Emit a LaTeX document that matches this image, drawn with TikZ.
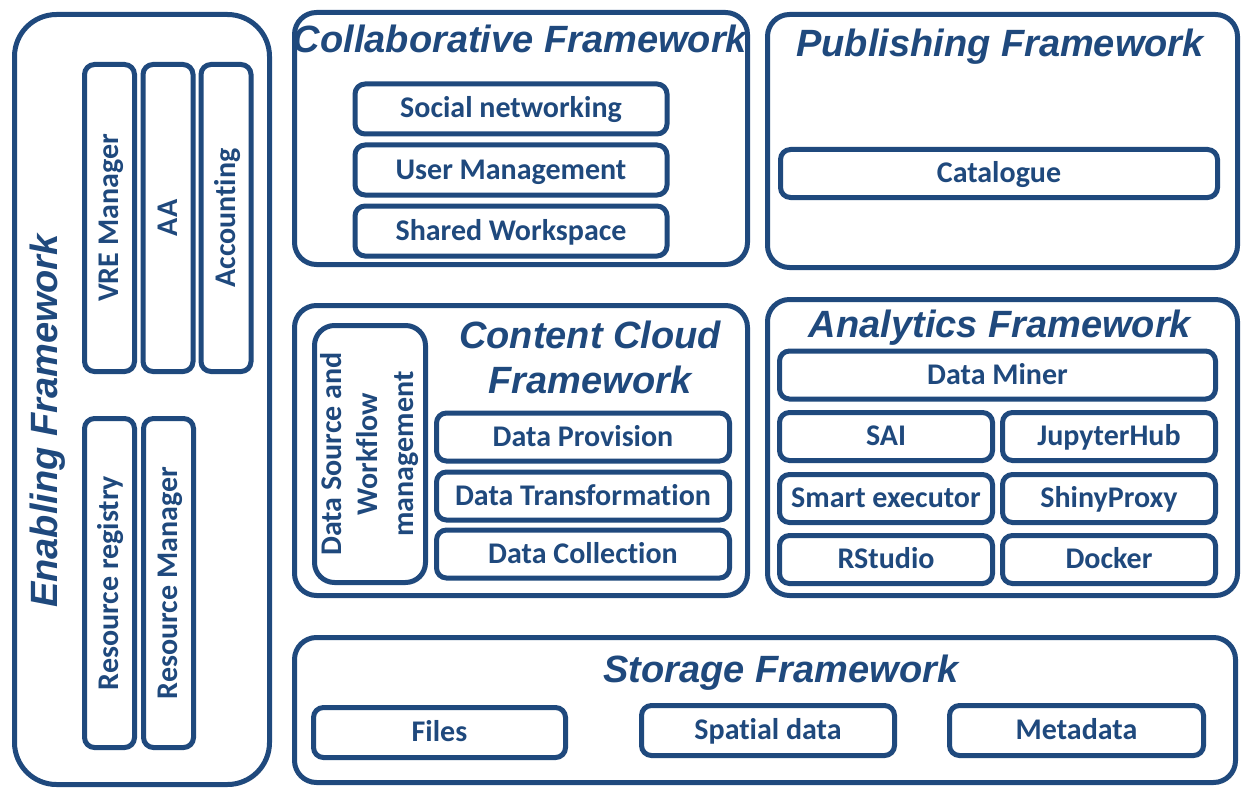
\documentclass[tikz,border=0pt]{standalone}
\usepackage{fontspec}
\setmainfont{Carlito}[Ligatures=NoCommon]
\newfontfamily\headfont{Liberation Sans}
\usetikzlibrary{positioning, shadows}
\definecolor{frameblue}{RGB}{31,73,125}

\begin{document}
\begin{tikzpicture}[
    x=1pt, y=-1pt,
    frame/.style={rectangle, draw=frameblue, line width=5pt, fill=white, rounded corners=22pt, inner sep=0pt,
        drop shadow={opacity=0.25, shadow xshift=2pt, shadow yshift=-2pt}},
    part/.style={rectangle, draw=frameblue, line width=5pt, fill=white, rounded corners=10pt, inner sep=0pt,
        minimum height=48pt, text=frameblue, font=\fontsize{30}{36}\selectfont\bfseries,
        text height=22pt, text depth=4pt,
        drop shadow={opacity=0.25, shadow xshift=2pt, shadow yshift=-2pt}},
    vpart/.style={part, rotate=90, minimum height=50pt},
    heading/.style={text=frameblue, font=\headfont\fontsize{38}{42}\selectfont\bfseries\itshape, inner sep=0pt, anchor=base}
]
\useasboundingbox (0,0) rectangle (1242,789);

% Enabling Framework (left column)
\node[frame, rounded corners=42pt, minimum width=255pt, minimum height=770pt] (enab) at (142,399.5) {};
\node[heading, rotate=90] (enabHead) at (57,421) {Enabling Framework};
\node[vpart, minimum width=307pt] (vre) at (109.5,218) {VRE Manager};
\node[vpart, minimum width=307pt] (aa) at (168,218) {AA};
\node[vpart, minimum width=307pt] (acc) at (226,218) {Accounting};
\node[vpart, minimum width=329pt] (resreg) at (109.5,583) {Resource registry};
\node[vpart, minimum width=329pt] (resman) at (168.5,583) {Resource Manager};

% Collaborative Framework
\node[frame, minimum width=453pt, minimum height=252pt] (collab) at (521,138.5) {};
\node[heading] (collabHead) at (520,53) {Collaborative Framework};
\node[part, minimum width=312pt, minimum height=50pt] (soc) at (511,109) {Social networking};
\node[part, minimum width=312pt, minimum height=50pt, below=6pt of soc] (usr) {User Management};
\node[part, minimum width=312pt, minimum height=50pt, below=6pt of usr] (ws) {Shared Workspace};

% Publishing Framework
\node[frame, minimum width=470pt, minimum height=253pt] (pub) at (1002.5,141) {};
\node[heading] (pubHead) at (1000,57) {Publishing Framework};
\node[part, minimum width=437pt] (cat) at (999,173.5) {Catalogue};

% Content Cloud Framework
\node[frame, minimum width=453pt, minimum height=290pt] (cc) at (521,450.5) {};
\node[heading] (ccHead) at (590,348) {Content Cloud};
\node[heading] (ccHead2) at (590,393) {Framework};
\node[vpart, rounded corners=20pt, minimum width=257pt, minimum height=111pt, align=center,
    text height={}, text depth={}] (dsw) at (370,454)
    {Data Source and\\Workflow\\management};
\node[part, minimum width=293pt] (dp) at (583,437) {Data Provision};
\node[part, minimum width=293pt, below=6pt of dp] (dt) {Data Transformation};
\node[part, minimum width=293pt, below=5pt of dt] (dc) {Data Collection};

% Analytics Framework
\node[frame, minimum width=470pt, minimum height=296pt] (ana) at (1002.5,447.5) {};
\node[heading] (anaHead) at (1000,337) {Analytics Framework};
\node[part, minimum width=436pt] (dm) at (997.5,375) {Data Miner};
\node[part, minimum width=213pt] (sai) at (886,436.5) {SAI};
\node[part, minimum width=213pt, right=5pt of sai] (jup) {JupyterHub};
\node[part, minimum width=213pt, below=9pt of sai] (smart) {Smart executor};
\node[part, minimum width=213pt, right=5pt of smart] (shiny) {ShinyProxy};
\node[part, minimum width=213pt, below=8pt of smart] (rstu) {RStudio};
\node[part, minimum width=213pt, right=5pt of rstu] (dock) {Docker};

% Storage Framework (bottom row)
\node[frame, minimum width=941pt, minimum height=145pt] (stor) at (765,710) {};
\node[heading] (storHead) at (781,682) {Storage Framework};
\node[part, minimum width=252pt, minimum height=50pt] (files) at (439.5,732.5) {Files};
\node[part, minimum width=253pt, minimum height=50pt] (spat) at (768,730.5) {Spatial data};
\node[part, minimum width=254pt, minimum height=50pt] (meta) at (1076.5,730.5) {Metadata};

\end{tikzpicture}
\end{document}
